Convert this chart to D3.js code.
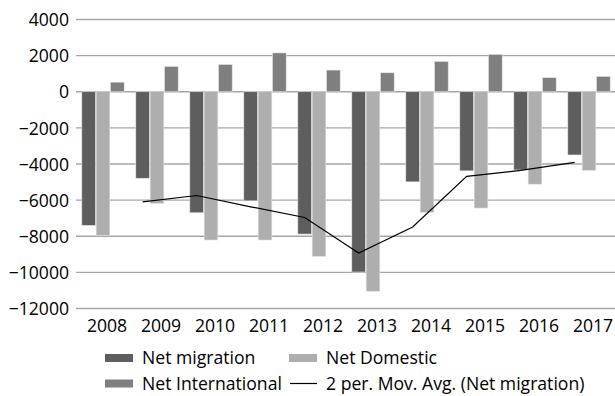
<!DOCTYPE html>
<html><head><meta charset="utf-8">
<script src="https://cdn.jsdelivr.net/npm/d3@7"></script>
<style>
html,body{margin:0;padding:0;background:#fff;}
svg{display:block;font-family:"Open Sans",sans-serif;}
</style></head>
<body>
<svg id="chart" width="615" height="396"></svg>
<script>
const years = ["2008","2009","2010","2011","2012","2013","2014","2015","2016","2017"];
const netMigration = [-7400,-4790,-6700,-6040,-7880,-9980,-4990,-4380,-4330,-3500];
const netDomestic = [-7950,-6190,-8210,-8210,-9120,-11050,-6680,-6440,-5120,-4360];
const netInternational = [530,1400,1510,2150,1200,1050,1680,2070,780,850];
const yTicks = [4000,2000,0,-2000,-4000,-6000,-8000,-10000,-12000];
const seriesNames = ["Net migration","Net Domestic","Net International"];
const seriesColors = ["#5e5e5e","#aeaeae","#7f7f7f"];
const avgName = "2 per. Mov. Avg. (Net migration)";
const FS = 17.6;

const svg = d3.select("#chart");
const x0 = d3.scaleBand().domain(years).range([76,616]).paddingInner(0.204).paddingOuter(0.102);
const x1 = d3.scaleBand().domain(seriesNames).range([0,x0.bandwidth()]).padding(0);
const y = d3.scaleLinear().domain([-12000,4000]).range([308.5,19.5]);

// gridlines
svg.append("g").selectAll("line").data(yTicks).join("line")
  .attr("x1",76).attr("x2",615)
  .attr("y1",d=>y(d)).attr("y2",d=>y(d))
  .attr("stroke","#a6a6a6").attr("stroke-width",1.3);

// y axis labels
const yAxis = d3.axisLeft(y).tickValues(yTicks).tickSize(0).tickPadding(0)
  .tickFormat(d=> d<0 ? "\u2212"+Math.abs(d) : String(d));
const ya = svg.append("g").attr("transform","translate(69,0)").call(yAxis);
ya.select(".domain").remove();
ya.selectAll("text").attr("font-size",FS).attr("fill","#000").attr("font-family","Open Sans").attr("dy","0.35em");

// bars
const seriesData = [netMigration, netDomestic, netInternational];
const groups = svg.append("g").selectAll("g").data(years).join("g")
  .attr("transform",d=>`translate(${x0(d)},0)`);
groups.selectAll("rect").data((d,i)=>seriesNames.map((s,k)=>({s,k,v:seriesData[k][i]}))).join("rect")
  .attr("x",d=>x1(d.s)+0.3).attr("width",x1.bandwidth()-0.6)
  .attr("y",d=>y(Math.max(0,d.v))).attr("height",d=>Math.abs(y(d.v)-y(0)))
  .attr("fill",d=>seriesColors[d.k]).attr("stroke","#e6e6e6").attr("stroke-width",0.6);

// moving average (2-period) of net migration
const avgPts = [];
for(let i=1;i<years.length;i++){
  avgPts.push({yr:years[i], v:(netMigration[i]+netMigration[i-1])/2});
}
const line = d3.line().x(d=>x0(d.yr)+x1("Net migration")+x1.bandwidth()/2).y(d=>y(d.v));
svg.append("path").datum(avgPts).attr("d",line).attr("fill","none").attr("stroke","#000").attr("stroke-width",1.2);

// x axis labels
const xAxis = d3.axisBottom(x0).tickSize(0).tickPadding(0);
const xa = svg.append("g").attr("transform","translate(4,326)").call(xAxis);
xa.select(".domain").remove();
xa.selectAll("text").attr("font-size",FS).attr("fill","#000").attr("font-family","Open Sans").attr("dy","0.35em");

// legend
const legend = svg.append("g");
const items = [
  {name:seriesNames[0], type:"rect", color:seriesColors[0], x:105, y:358},
  {name:seriesNames[1], type:"rect", color:seriesColors[1], x:289, y:358},
  {name:seriesNames[2], type:"rect", color:seriesColors[2], x:105, y:383.5},
  {name:avgName, type:"line", color:"#000", x:289, y:383.5}
];
items.forEach(it=>{
  if(it.type==="rect"){
    legend.append("rect").attr("x",it.x).attr("y",it.y-4).attr("width",28).attr("height",8).attr("fill",it.color);
  } else {
    legend.append("line").attr("x1",it.x+1).attr("x2",it.x+28).attr("y1",it.y).attr("y2",it.y).attr("stroke",it.color).attr("stroke-width",1.2);
  }
  legend.append("text").attr("x",it.x+37).attr("y",it.y).attr("dy","0.35em")
    .attr("font-size",FS).attr("fill","#000").text(it.name);
});
</script>
</body></html>
